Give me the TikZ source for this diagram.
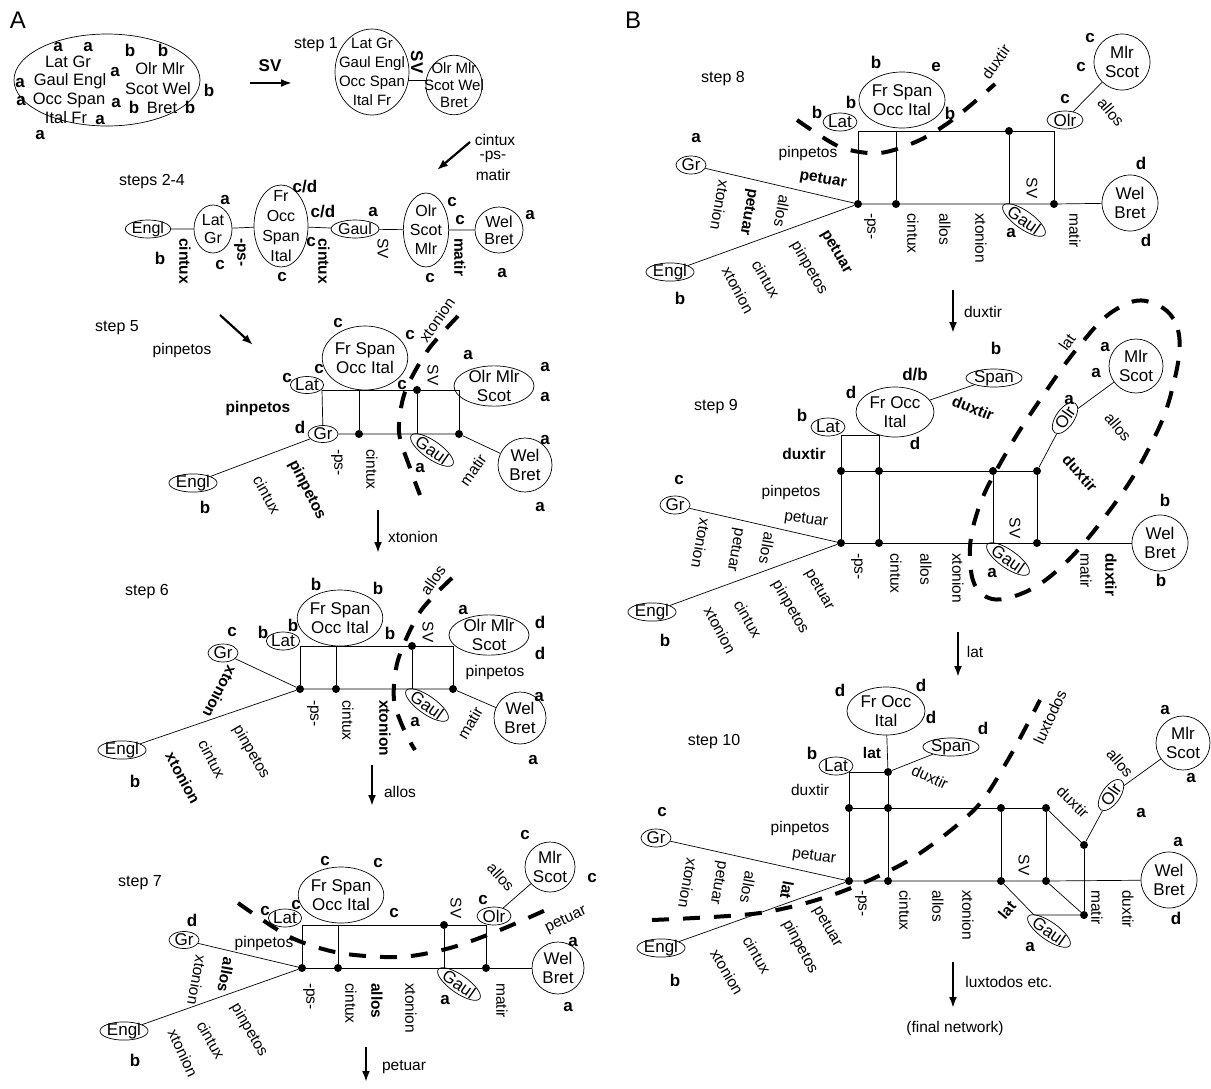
\documentclass[tikz,border=0pt]{standalone}
\usepackage{fontspec}
\setmainfont{Liberation Sans}
\usetikzlibrary{arrows.meta,shapes.geometric}

\begin{document}
\begin{tikzpicture}[x=1pt, y=-1pt,
  lang/.style={draw, ellipse, line width=0.7pt, inner xsep=0pt, inner ysep=-1.5pt,
               align=center, font=\fontsize{17}{19}\selectfont},
  sz/.style 2 args={minimum width=#1pt, minimum height=#2pt},
  nm/.style={font=\fontsize{16.5}{16.5}\selectfont, inner sep=0pt},
  st/.style={font=\bfseries\fontsize{17}{17}\selectfont, inner sep=0pt},
  ch/.style={font=\fontsize{15.5}{15.5}\selectfont, inner sep=0pt},
  chb/.style={font=\bfseries\fontsize{15.5}{15.5}\selectfont, inner sep=0pt},
  dn/.style={rotate=-90, anchor=west},
  stp/.style={font=\fontsize{16}{16}\selectfont, inner sep=0pt},
  jn/.style={circle, fill, inner sep=0pt, minimum size=8pt},
  edge/.style={line width=0.7pt},
  cut/.style={line width=4pt, dash pattern=on 17pt off 14pt},
  go/.style={-{Latex[length=11pt,width=8pt]}, line width=2.2pt},
]
\useasboundingbox (0,0) rectangle (1211,1088);

\node[font=\fontsize{24}{24}\selectfont, inner sep=0pt] (pA) at (18,20) {A};
\node[font=\fontsize{24}{24}\selectfont, inner sep=0pt] (pB) at (633,20) {B};

% ------------------------------------------------------------------ start
\node[lang, sz={186}{92}] (s0) at (107,80) {};
\node[nm] (s0t1) at (68,62) {Lat Gr};
\node[nm] (s0t2) at (70,81) {Gaul Engl};
\node[nm] (s0t3) at (69,100) {Occ Span};
\node[nm] (s0t4) at (66,118) {Ital Fr};
\node[nm] (s0t5) at (160,69) {Olr Mlr};
\node[nm] (s0t6) at (158,89) {Scot Wel};
\node[nm] (s0t7) at (162,108) {Bret};
\node[st] (s0x1) at (58,47) {a};
\node[st] (s0x2) at (88,47) {a};
\node[st] (s0x3) at (115,72) {a};
\node[st] (s0x4) at (20,83) {a};
\node[st] (s0x5) at (21,101) {a};
\node[st] (s0x6) at (116,103) {a};
\node[st] (s0x7) at (100,120) {a};
\node[st] (s0x8) at (40,135) {a};
\node[st] (s0y1) at (130,50) {b};
\node[st] (s0y2) at (163,50) {b};
\node[st] (s0y3) at (134,107) {b};
\node[st] (s0y4) at (190,107) {b};
\node[st] (s0y5) at (209,90) {b};
\coordinate (s0go) at (250,83);
\coordinate (s1in) at (292,83);
\draw[go] (s0go) -- (s1in);
\node[st] (s0sv) at (270,66) {SV};

% ------------------------------------------------------------------ step 1
\node[stp] (st1) at (316,45) {step 1};
\node[lang, sz={74}{86}, font=\fontsize{15}{19}\selectfont, inner xsep=-7pt, inner ysep=-5pt]
  (s1l) at (372,72) {Lat Gr\\Gaul Engl\\Occ Span\\Ital Fr};
\node[lang, sz={54}{56}, font=\fontsize{15}{17}\selectfont, inner xsep=-10pt]
  (s1r) at (454,85) {Olr Mlr\\Scot Wel\\Bret};
\draw[edge] (s1l.east) ++(-1,8) -- ++(20,0);
\node[st, rotate=-90] (s1sv) at (417,62) {SV};
\coordinate (s1go) at (470,142);
\coordinate (s2in) at (437,170);
\draw[go] (s1go) -- (s2in);
\node[ch] (s1c1) at (495,140) {cintux};
\node[ch] (s1c2) at (493,157) {-ps-};
\node[ch] (s1c3) at (493,175) {matir};

% ------------------------------------------------------------------ steps 2-4
\node[stp] (st2) at (152,182) {steps 2-4};
\node[lang, sz={44}{18}, font=\fontsize{16}{16}\selectfont] (s2engl) at (148,229) {Engl};
\node[lang, sz={38}{48}, font=\fontsize{16}{18}\selectfont] (s2latgr) at (213,229) {Lat\\Gr};
\node[lang, sz={54}{82}, font=\fontsize{16}{20}\selectfont, inner ysep=-9pt] (s2fr) at (281,226) {Fr\\Occ\\Span\\Ital};
\node[lang, sz={44}{18}, font=\fontsize{16}{16}\selectfont] (s2gaul) at (355,229) {Gaul};
\node[lang, sz={44}{74}, font=\fontsize{16}{19}\selectfont] (s2olr) at (426,230) {Olr\\Scot\\Mlr};
\node[lang, sz={48}{46}, font=\fontsize{16}{17}\selectfont] (s2wel) at (499,230) {Wel\\Bret};
\draw[edge] (s2engl) -- (s2latgr) -- (s2fr) -- (s2gaul) -- (s2olr) -- (s2wel);
\node[st] (s2x1) at (225,200) {a};
\node[st] (s2x2) at (305,187) {c/d};
\node[st] (s2x3) at (323,212) {c/d};
\node[st] (s2x4) at (373,212) {a};
\node[st] (s2x5) at (452,202) {c};
\node[st] (s2x6) at (460,220) {c};
\node[st] (s2x7) at (530,215) {a};
\node[st] (s2x8) at (160,258) {b};
\node[st] (s2x9) at (220,265) {c};
\node[st] (s2xa) at (311,242) {c};
\node[st] (s2xb) at (282,277) {c};
\node[st] (s2xc) at (430,278) {c};
\node[st] (s2xd) at (502,273) {a};
\node[chb, dn] (s2k1) at (185,238) {cintux};
\node[chb, dn] (s2k2) at (240,238) {-ps-};
\node[chb, dn] (s2k3) at (324,238) {cintux};
\node[ch, dn] (s2k4) at (383,238) {SV};
\node[chb, dn] (s2k5) at (460,238) {matir};
\coordinate (s2go) at (220,315);
\coordinate (s5in) at (253,345);
\draw[go] (s2go) -- (s5in);
\node[ch] (s2k6) at (182,350) {pinpetos};

% ------------------------------------------------------------------ step 5
\node[stp] (st5) at (117,328) {step 5};
\node[lang, sz={80}{64}] (s5fr) at (365,358) {Fr Span\\Occ Ital};
\node[lang, sz={30}{17}] (s5lat) at (307,385) {Lat};
\node[lang, sz={30}{17}] (s5gr) at (323,434) {Gr};
\node[lang, sz={80}{38}] (s5olr) at (494,386) {Olr Mlr\\Scot};
\node[lang, sz={54}{54}] (s5wel) at (525,465) {Wel\\Bret};
\node[lang, sz={46}{17}] (s5engl) at (193,483) {Engl};
\coordinate (s5a) at (322,390);
\coordinate (s5b) at (359,390);
\node[jn] (s5c) at (417,390) {};
\coordinate (s5d) at (459,390);
\node[jn] (s5e) at (359,434) {};
\node[jn] (s5f) at (459,434) {};
\coordinate (s5g) at (417,434);
\node[lang, sz={46}{18}, rotate=-35] (s5gaul) at (432,450) {Gaul};
\draw[edge] (s5a) -- (s5d);
\draw[edge] (s5a) -- (s5gr);
\draw[edge] (s5b) -- (s5e);
\draw[edge] (s5c) -- (s5g);
\draw[edge] (s5d) -- (s5f);
\draw[edge] (s5gr) -- (s5f) -- (s5wel);
\draw[edge] (s5engl) -- (s5gr);
\draw[cut] plot[smooth] coordinates {(458,316) (428,350) (405,392) (399,432) (410,468) (420,495)};
\node[st] (s5x1) at (338,323) {c};
\node[st] (s5x2) at (410,335) {c};
\node[st] (s5x3) at (319,369) {c};
\node[st] (s5x4) at (287,378) {c};
\node[st] (s5x5) at (402,385) {c};
\node[st] (s5x6) at (468,355) {a};
\node[st] (s5x7) at (545,367) {a};
\node[st] (s5x8) at (545,397) {a};
\node[st] (s5x9) at (300,427) {d};
\node[st] (s5xa) at (545,440) {a};
\node[st] (s5xb) at (420,468) {a};
\node[st] (s5xc) at (540,507) {a};
\node[st] (s5xd) at (205,507) {b};
\node[chb] (s5k1) at (258,408) {pinpetos};
\node[ch, rotate=-90] (s5k2) at (433,375) {SV};
\node[ch, rotate=55] (s5k3) at (437,320) {xtonion};
\node[ch, rotate=55] (s5k4) at (473,470) {matir};
\node[ch, dn] (s5k5) at (337,449) {-ps-};
\node[ch, dn] (s5k6) at (372,449) {cintux};
\node[ch, rotate=-61] (s5k7) at (267,495) {cintux};
\node[chb, rotate=-63] (s5k8) at (307,490) {pinpetos};
\coordinate (s5go) at (378,510);
\coordinate (s6in) at (378,553);
\draw[go] (s5go) -- (s6in);
\node[ch] (s5k9) at (413,537) {xtonion};

% ------------------------------------------------------------------ step 6
\node[stp] (st6) at (147,592) {step 6};
\node[lang, sz={82}{56}] (s6fr) at (340,618) {Fr Span\\Occ Ital};
\node[lang, sz={32}{18}] (s6lat) at (283,641) {Lat};
\node[lang, sz={30}{18}] (s6gr) at (223,653) {Gr};
\node[lang, sz={80}{40}] (s6olr) at (489,635) {Olr Mlr\\Scot};
\node[lang, sz={52}{52}] (s6wel) at (520,718) {Wel\\Bret};
\node[lang, sz={46}{17}] (s6engl) at (122,750) {Engl};
\coordinate (s6a) at (300,646);
\coordinate (s6b) at (336,646);
\node[jn] (s6c) at (412,646) {};
\coordinate (s6d) at (453,646);
\node[jn] (s6e) at (300,689) {};
\node[jn] (s6f) at (336,689) {};
\node[jn] (s6g) at (453,689) {};
\coordinate (s6h) at (412,689);
\node[lang, sz={46}{18}, rotate=-35] (s6gaul) at (427,705) {Gaul};
\draw[edge] (s6a) -- (s6d);
\draw[edge] (s6a) -- (s6e);
\draw[edge] (s6b) -- (s6f);
\draw[edge] (s6c) -- (s6h);
\draw[edge] (s6d) -- (s6g);
\draw[edge] (s6e) -- (s6g) -- (s6wel);
\draw[edge] (s6gr) -- (s6e);
\draw[edge] (s6engl) -- (s6e);
\draw[cut] plot[smooth] coordinates {(452,578) (420,612) (398,660) (394,700) (405,732) (415,750)};
\node[st] (s6x1) at (316,584) {b};
\node[st] (s6x2) at (378,588) {b};
\node[st] (s6x3) at (293,625) {b};
\node[st] (s6x4) at (263,632) {b};
\node[st] (s6x5) at (390,633) {b};
\node[st] (s6x6) at (232,632) {c};
\node[st] (s6x7) at (463,610) {a};
\node[st] (s6x8) at (540,622) {d};
\node[st] (s6x9) at (540,653) {d};
\node[st] (s6xa) at (539,697) {a};
\node[st] (s6xb) at (533,760) {a};
\node[st] (s6xc) at (415,722) {a};
\node[st] (s6xd) at (135,781) {b};
\node[ch] (s6k1) at (495,672) {pinpetos};
\node[ch, rotate=-90] (s6k2) at (428,632) {SV};
\node[ch, rotate=55] (s6k3) at (433,580) {allos};
\node[ch, rotate=60] (s6k4) at (470,723) {matir};
\node[chb, rotate=-117] (s6k5) at (220,692) {xtonion};
\node[ch, dn] (s6k6) at (313,700) {-ps-};
\node[ch, dn] (s6k7) at (348,700) {cintux};
\node[chb, dn] (s6k8) at (385,700) {xtonion};
\node[chb, rotate=-62] (s6k9) at (183,778) {xtonion};
\node[ch, rotate=-62] (s6ka) at (212,759) {cintux};
\node[ch, rotate=-60] (s6kb) at (251,752) {pinpetos};
\coordinate (s6go) at (372,765);
\coordinate (s7in) at (372,806);
\draw[go] (s6go) -- (s7in);
\node[ch] (s6kc) at (400,792) {allos};

% ------------------------------------------------------------------ step 7
\node[stp] (st7) at (140,883) {step 7};
\node[lang, sz={80}{56}] (s7fr) at (341,895) {Fr Span\\Occ Ital};
\node[lang, sz={32}{18}] (s7lat) at (285,918) {Lat};
\node[lang, sz={30}{17}] (s7gr) at (184,940) {Gr};
\node[lang, sz={34}{18}] (s7olr) at (494,916) {Olr};
\node[lang, sz={50}{50}] (s7mlr) at (550,867) {Mlr\\Scot};
\node[lang, sz={52}{52}] (s7wel) at (558,968) {Wel\\Bret};
\node[lang, sz={48}{17}] (s7engl) at (124,1031) {Engl};
\coordinate (s7a) at (302,925);
\coordinate (s7b) at (338,925);
\node[jn] (s7c) at (444,925) {};
\coordinate (s7d) at (486,925);
\node[jn] (s7e) at (302,968) {};
\node[jn] (s7f) at (338,968) {};
\node[jn] (s7g) at (486,968) {};
\coordinate (s7h) at (444,968);
\node[lang, sz={46}{18}, rotate=-35] (s7gaul) at (459,984) {Gaul};
\draw[edge] (s7a) -- (s7d);
\draw[edge] (s7a) -- (s7e);
\draw[edge] (s7b) -- (s7f);
\draw[edge] (s7c) -- (s7h);
\draw[edge] (s7d) -- (s7g);
\draw[edge] (s7olr) -- (s7mlr);
\draw[edge] (s7e) -- (s7g) -- (s7wel);
\draw[edge] (s7gr) -- (s7e);
\draw[edge] (s7engl) -- (s7e);
\draw[cut] plot[smooth] coordinates {(238,903) (290,937) (340,953) (400,957) (450,948) (500,930) (548,909)};
\node[st] (s7x1) at (325,861) {c};
\node[st] (s7x2) at (378,863) {c};
\node[st] (s7x3) at (296,905) {c};
\node[st] (s7x4) at (265,911) {c};
\node[st] (s7x5) at (394,913) {c};
\node[st] (s7x6) at (483,900) {c};
\node[st] (s7x7) at (525,835) {c};
\node[st] (s7x8) at (592,878) {c};
\node[st] (s7x9) at (192,920) {d};
\node[st] (s7xa) at (573,942) {a};
\node[st] (s7xb) at (568,1007) {a};
\node[st] (s7xc) at (445,1000) {a};
\node[st] (s7xd) at (135,1060) {b};
\node[ch, rotate=-48] (s7k1) at (501,877) {allos};
\node[ch, rotate=-90] (s7k2) at (456,908) {SV};
\node[ch, rotate=25] (s7k3) at (566,920) {petuar};
\node[ch] (s7k4) at (264,943) {pinpetos};
\node[ch, dn] (s7k5) at (309,983) {-ps-};
\node[ch, dn] (s7k6) at (351,983) {cintux};
\node[chb, dn] (s7k7) at (377,983) {allos};
\node[ch, dn] (s7k8) at (411,983) {xtonion};
\node[ch, dn] (s7k9) at (502,983) {matir};
\node[ch, rotate=-100] (s7ka) at (197,980) {xtonion};
\node[chb, rotate=-100] (s7kb) at (226,975) {allos};
\node[ch, rotate=-60] (s7kc) at (211,1040) {cintux};
\node[ch, rotate=-65] (s7kd) at (183,1053) {xtonion};
\node[ch, rotate=-60] (s7ke) at (249,1030) {pinpetos};
\coordinate (s7go) at (366,1047);
\coordinate (s7out) at (366,1082);
\draw[go] (s7go) -- (s7out);
\node[ch] (s7kf) at (404,1067) {petuar};

% ------------------------------------------------------------------ step 8
\node[stp] (st8) at (723,79) {step 8};
\node[lang, sz={86}{56}] (s8fr) at (902,100) {Fr Span\\Occ Ital};
\node[lang, sz={34}{18}] (s8lat) at (840,122) {Lat};
\node[lang, sz={30}{18}] (s8gr) at (691,165) {Gr};
\node[lang, sz={36}{18}] (s8olr) at (1065,120) {Olr};
\node[lang, sz={56}{56}] (s8mlr) at (1122,62) {Mlr\\Scot};
\node[lang, sz={56}{56}] (s8wel) at (1130,203) {Wel\\Bret};
\node[lang, sz={48}{18}] (s8engl) at (670,272) {Engl};
\coordinate (s8a) at (858,131);
\coordinate (s8b) at (896,131);
\node[jn] (s8c) at (1009,131) {};
\coordinate (s8d) at (1054,131);
\node[jn] (s8e) at (858,204) {};
\node[jn] (s8f) at (896,204) {};
\node[jn] (s8g) at (1054,204) {};
\coordinate (s8h) at (1009,204);
\node[lang, sz={46}{18}, rotate=-35] (s8gaul) at (1024,220) {Gaul};
\draw[edge] (s8a) -- (s8d);
\draw[edge] (s8a) -- (s8e);
\draw[edge] (s8b) -- (s8f);
\draw[edge] (s8c) -- (s8h);
\draw[edge] (s8d) -- (s8g);
\draw[edge] (s8olr) -- (s8mlr);
\draw[edge] (s8e) -- (s8g) -- (s8wel);
\draw[edge] (s8gr) -- (s8e);
\draw[edge] (s8engl) -- (s8e);
\draw[cut] plot[smooth] coordinates {(797,120) (840,147) (880,153) (920,140) (955,118) (995,84)};
\node[st] (s8x1) at (876,62) {b};
\node[st] (s8x2) at (936,67) {e};
\node[st] (s8x3) at (851,102) {b};
\node[st] (s8x4) at (817,112) {b};
\node[st] (s8x5) at (950,113) {b};
\node[st] (s8x6) at (696,138) {a};
\node[st] (s8x7) at (1065,99) {c};
\node[st] (s8x8) at (1090,38) {c};
\node[st] (s8x9) at (1081,67) {c};
\node[st] (s8xa) at (1141,163) {d};
\node[st] (s8xb) at (1146,240) {d};
\node[st] (s8xc) at (1011,233) {a};
\node[st] (s8xd) at (680,298) {b};
\node[ch, rotate=-50] (s8k1) at (1111,112) {allos};
\node[ch, rotate=55] (s8k2) at (996,62) {duxtir};
\node[ch] (s8k3) at (808,153) {pinpetos};
\node[chb, rotate=-10] (s8k4) at (823,180) {petuar};
\node[ch, rotate=-90] (s8k5) at (1032,188) {SV};
\node[ch, dn] (s8k6) at (870,213) {-ps-};
\node[ch, dn] (s8k7) at (913,213) {cintux};
\node[ch, dn] (s8k8) at (945,213) {allos};
\node[ch, dn] (s8k9) at (981,213) {xtonion};
\node[ch, dn] (s8ka) at (1075,213) {matir};
\node[ch, rotate=-100] (s8kb) at (720,205) {xtonion};
\node[chb, rotate=-100] (s8kc) at (748,212) {petuar};
\node[ch, rotate=-100] (s8kd) at (782,211) {allos};
\node[ch, rotate=-62] (s8ke) at (738,290) {xtonion};
\node[ch, rotate=-60] (s8kf) at (766,279) {cintux};
\node[ch, rotate=-60] (s8kg) at (809,268) {pinpetos};
\node[chb, rotate=-60] (s8kh) at (836,252) {petuar};
\coordinate (s8go) at (953,290);
\coordinate (s9in) at (953,333);
\draw[go] (s8go) -- (s9in);
\node[ch] (s8ki) at (983,312) {duxtir};

% ------------------------------------------------------------------ step 9
\node[stp] (st9) at (716,407) {step 9};
\node[lang, sz={78}{50}] (s9fr) at (895,412) {Fr Occ\\Ital};
\node[lang, sz={56}{18}] (s9span) at (994,378) {Span};
\node[lang, sz={34}{18}] (s9lat) at (828,427) {Lat};
\node[lang, sz={36}{18}, rotate=55] (s9olr) at (1065,418) {Olr};
\node[lang, sz={54}{54}] (s9mlr) at (1136,366) {Mlr\\Scot};
\node[lang, sz={56}{56}] (s9wel) at (1160,543) {Wel\\Bret};
\node[lang, sz={30}{18}] (s9gr) at (675,505) {Gr};
\node[lang, sz={48}{18}] (s9engl) at (652,612) {Engl};
\coordinate (s9a) at (841,435);
\coordinate (s9b) at (879,435);
\node[jn] (s9c) at (841,471) {};
\node[jn] (s9d) at (879,471) {};
\node[jn] (s9e) at (993,471) {};
\node[jn] (s9f) at (1037,471) {};
\node[jn] (s9g) at (841,543) {};
\node[jn] (s9h) at (879,543) {};
\coordinate (s9i) at (993,543);
\node[jn] (s9k) at (1037,543) {};
\node[lang, sz={46}{18}, rotate=-35] (s9gaul) at (1008,559) {Gaul};
\draw[edge] (s9a) -- (s9b);
\draw[edge] (s9a) -- (s9g);
\draw[edge] (s9b) -- (s9h);
\draw[edge] (s9c) -- (s9f);
\draw[edge] (s9e) -- (s9i);
\draw[edge] (s9f) -- (s9k);
\draw[edge] (s9g) -- (s9k) -- (s9wel);
\draw[edge] (s9f) -- (s9olr) -- (s9mlr);
\draw[edge] (s9fr) -- (s9span);
\draw[edge] (s9gr) -- (s9g);
\draw[edge] (s9engl) -- (s9g);
\draw[cut] plot[smooth cycle, tension=0.7] coordinates {(1150,302) (1178,330) (1172,390) (1148,450)
  (1110,510) (1060,568) (1015,596) (982,594) (970,560) (978,510) (1005,455) (1040,400) (1080,345) (1115,310)};
\node[st] (s9x1) at (915,375) {d/b};
\node[st] (s9x2) at (851,392) {d};
\node[st] (s9x3) at (915,443) {d};
\node[st] (s9x4) at (802,415) {b};
\node[st] (s9x5) at (996,348) {b};
\node[st] (s9x6) at (1105,347) {a};
\node[st] (s9x7) at (1096,373) {a};
\node[st] (s9x8) at (1069,400) {a};
\node[st] (s9x9) at (679,480) {c};
\node[st] (s9xa) at (1165,500) {b};
\node[st] (s9xb) at (1161,580) {b};
\node[st] (s9xc) at (992,573) {a};
\node[st] (s9xd) at (665,640) {b};
\node[chb, rotate=-22] (s9k1) at (973,408) {duxtir};
\node[chb] (s9k2) at (804,454) {duxtir};
\node[ch] (s9k3) at (791,492) {pinpetos};
\node[ch, rotate=-8] (s9k4) at (806,520) {petuar};
\node[ch, rotate=-50] (s9k5) at (1118,427) {allos};
\node[chb, rotate=-48] (s9k6) at (1080,473) {duxtir};
\node[ch, rotate=55] (s9k7) at (1067,342) {lat};
\node[ch, rotate=-90] (s9k8) at (1015,528) {SV};
\node[ch, dn] (s9k9) at (857,553) {-ps-};
\node[ch, dn] (s9ka) at (896,553) {cintux};
\node[ch, dn] (s9kb) at (926,553) {allos};
\node[ch, dn] (s9kc) at (958,553) {xtonion};
\node[ch, dn] (s9kd) at (1086,553) {matir};
\node[chb, dn] (s9ke) at (1111,553) {duxtir};
\node[ch, rotate=-100] (s9kf) at (701,543) {xtonion};
\node[ch, rotate=-100] (s9kg) at (735,550) {petuar};
\node[ch, rotate=-100] (s9kh) at (767,548) {allos};
\node[ch, rotate=-60] (s9ki) at (819,590) {petuar};
\node[ch, rotate=-60] (s9kj) at (790,607) {pinpetos};
\node[ch, rotate=-60] (s9kk) at (748,619) {cintux};
\node[ch, rotate=-62] (s9kl) at (720,630) {xtonion};
\coordinate (s9go) at (958,632);
\coordinate (t0in) at (958,677);
\draw[go] (s9go) -- (t0in);
\node[ch] (s9km) at (975,652) {lat};

% ------------------------------------------------------------------ step 10
\node[stp] (st10) at (714,742) {step 10};
\node[lang, sz={78}{48}] (t0fr) at (886,711) {Fr Occ\\Ital};
\node[lang, sz={56}{18}] (t0span) at (951,747) {Span};
\node[lang, sz={34}{18}] (t0lat) at (836,766) {Lat};
\node[lang, sz={36}{18}, rotate=55] (t0olr) at (1111,795) {Olr};
\node[lang, sz={54}{54}] (t0mlr) at (1183,743) {Mlr\\Scot};
\node[lang, sz={56}{56}] (t0wel) at (1169,880) {Wel\\Bret};
\node[lang, sz={30}{18}] (t0gr) at (656,838) {Gr};
\node[lang, sz={48}{18}] (t0engl) at (661,948) {Engl};
\coordinate (t0a) at (849,772);
\node[jn] (t0b) at (888,772) {};
\node[jn] (t0c) at (849,808) {};
\node[jn] (t0d) at (888,808) {};
\node[jn] (t0e) at (1001,808) {};
\node[jn] (t0f) at (1046,808) {};
\node[jn] (t0g) at (849,881) {};
\node[jn] (t0h) at (888,881) {};
\node[jn] (t0i) at (1001,881) {};
\node[jn] (t0k) at (1046,881) {};
\node[jn] (t0m) at (1084,845) {};
\node[jn] (t0n) at (1084,915) {};
\coordinate (t0p) at (1034,915);
\node[lang, sz={46}{18}, rotate=-35] (t0gaul) at (1049,931) {Gaul};
\draw[edge] (t0fr) -- (t0b) -- (t0span);
\draw[edge] (t0a) -- (t0b);
\draw[edge] (t0a) -- (t0g);
\draw[edge] (t0b) -- (t0h);
\draw[edge] (t0c) -- (t0f);
\draw[edge] (t0e) -- (t0i);
\draw[edge] (t0f) -- (t0k);
\draw[edge] (t0g) -- (t0k) -- (t0wel);
\draw[edge] (t0f) -- (t0m) -- (t0olr) -- (t0mlr);
\draw[edge] (t0m) -- (t0n);
\draw[edge] (t0k) -- (t0n);
\draw[edge] (t0i) -- (t0p) -- (t0n);
\draw[edge] (t0gr) -- (t0g);
\draw[edge] (t0engl) -- (t0g);
\draw[cut] plot[smooth] coordinates {(652,920) (760,913) (838,893) (911,859) (975,809) (1009,758) (1040,700)};
\node[st] (t0x1) at (840,690) {d};
\node[st] (t0x2) at (921,685) {d};
\node[st] (t0x3) at (931,717) {d};
\node[st] (t0x4) at (983,728) {d};
\node[st] (t0x5) at (812,753) {b};
\node[st] (t0x6) at (662,812) {c};
\node[st] (t0x7) at (675,980) {b};
\node[st] (t0x8) at (1165,710) {a};
\node[st] (t0x9) at (1191,778) {a};
\node[st] (t0xa) at (1141,813) {a};
\node[st] (t0xb) at (1178,842) {a};
\node[st] (t0xc) at (1176,918) {d};
\node[st] (t0xd) at (1030,947) {a};
\node[chb] (t0k1) at (872,753) {lat};
\node[ch, rotate=-25] (t0k2) at (930,777) {duxtir};
\node[ch] (t0k3) at (810,790) {duxtir};
\node[ch] (t0k4) at (800,828) {pinpetos};
\node[ch, rotate=-8] (t0k5) at (814,857) {petuar};
\node[ch, rotate=-50] (t0k6) at (1120,763) {allos};
\node[ch, rotate=-45] (t0k7) at (1073,802) {duxtir};
\node[ch, rotate=65] (t0k8) at (1050,717) {luxtodos};
\node[ch, rotate=-90] (t0k9) at (1024,865) {SV};
\node[chb, rotate=50] (t0ka) at (1007,910) {lat};
\node[ch, dn] (t0kb) at (861,890) {-ps-};
\node[ch, dn] (t0kc) at (905,890) {cintux};
\node[ch, dn] (t0kd) at (938,890) {allos};
\node[ch, dn] (t0ke) at (968,890) {xtonion};
\node[ch, dn] (t0kf) at (1097,890) {matir};
\node[ch, dn] (t0kg) at (1128,890) {duxtir};
\node[ch, rotate=-100] (t0kh) at (688,883) {xtonion};
\node[ch, rotate=-100] (t0ki) at (718,883) {petuar};
\node[ch, rotate=-100] (t0kj) at (748,887) {allos};
\node[chb, rotate=-100] (t0kk) at (787,890) {lat};
\node[ch, rotate=-60] (t0kl) at (827,927) {petuar};
\node[ch, rotate=-62] (t0km) at (800,947) {pinpetos};
\node[ch, rotate=-60] (t0kn) at (757,955) {cintux};
\node[ch, rotate=-60] (t0ko) at (727,972) {xtonion};
\coordinate (t0go) at (953,962);
\coordinate (t0out) at (953,1008);
\draw[go] (t0go) -- (t0out);
\node[ch] (t0kp) at (1009,982) {luxtodos etc.};
\node[ch] (t0kq) at (955,1028) {(final network)};
\end{tikzpicture}
\end{document}
